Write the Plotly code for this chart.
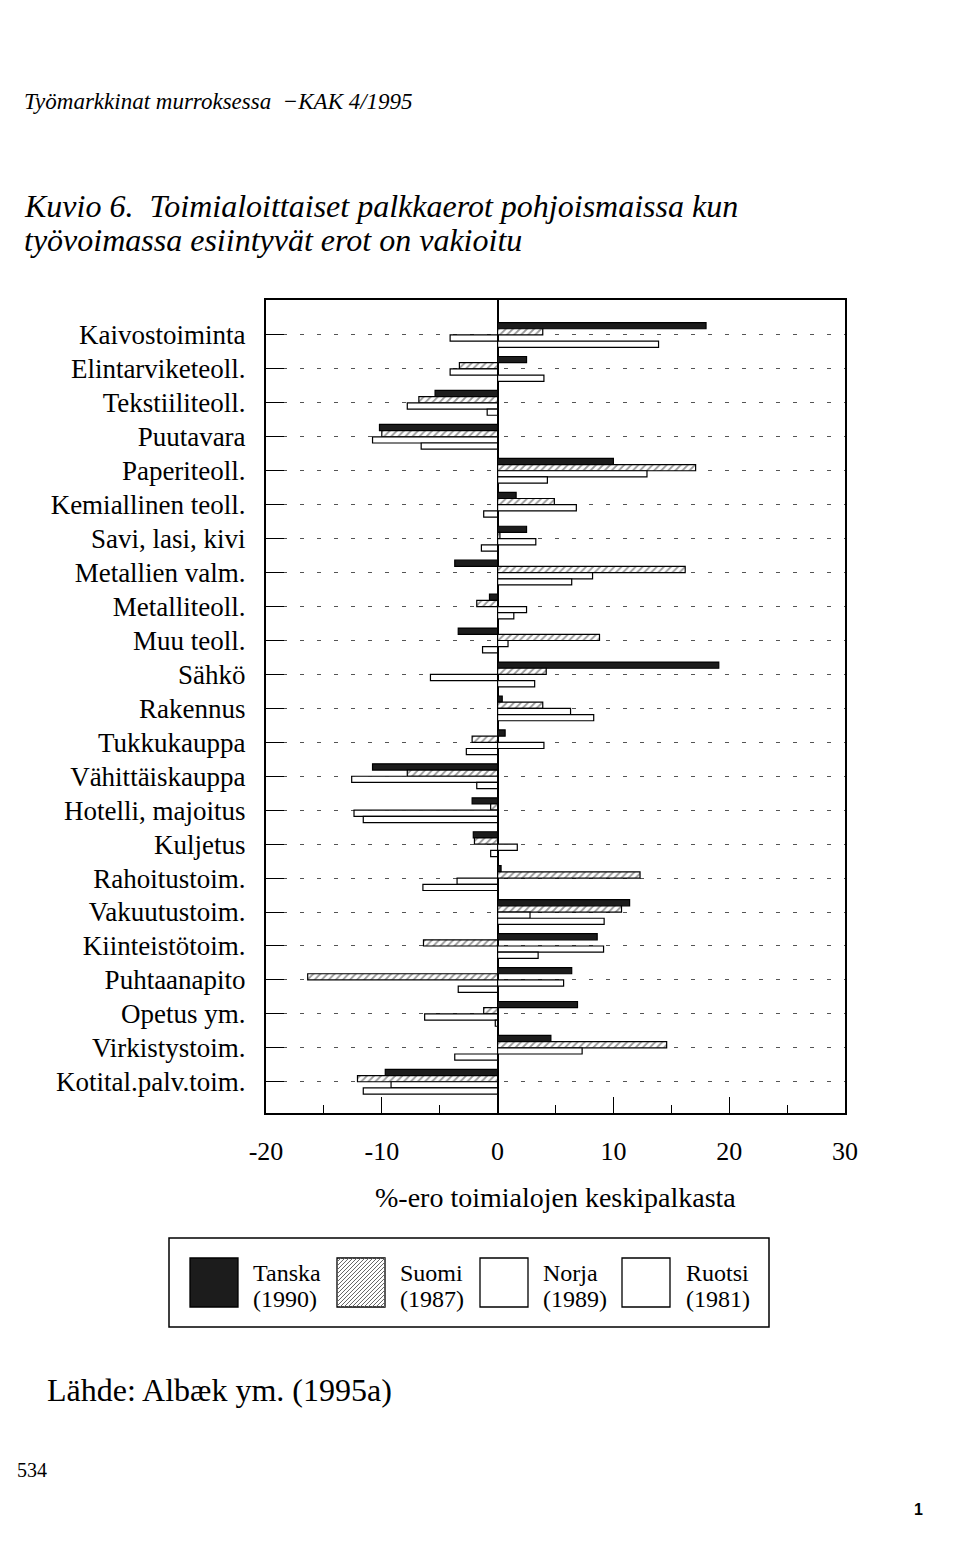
import plotly.graph_objects as go

# ---------------- data ----------------
categories = [
    "Kaivostoiminta", "Elintarviketeoll.", "Tekstiiliteoll.", "Puutavara",
    "Paperiteoll.", "Kemiallinen teoll.", "Savi, lasi, kivi", "Metallien valm.",
    "Metalliteoll.", "Muu teoll.", "Sähkö", "Rakennus", "Tukkukauppa",
    "Vähittäiskauppa", "Hotelli, majoitus", "Kuljetus", "Rahoitustoim.",
    "Vakuutustoim.", "Kiinteistötoim.", "Puhtaanapito", "Opetus ym.",
    "Virkistystoim.", "Kotital.palv.toim.",
]
tanska = [18.0, 2.5, -5.4, -10.2, 10.0, 1.6, 2.5, -3.7, -0.7, -3.4, 19.1, 0.4,
          0.65, -10.8, -2.2, -2.1, 0.3, 11.4, 8.6, 6.4, 6.9, 4.6, -9.7]
suomi = [3.9, -3.3, -6.8, -10.0, 17.1, 4.9, 0.2, 16.2, -1.8, 8.8, 4.2, 3.9,
         -2.2, -7.8, -0.6, -2.0, 12.3, 10.7, -6.4, -16.4, -1.2, 14.6, -12.1]
norja = [-4.1, -4.1, -7.8, -10.8, 12.9, 6.8, 3.3, 8.2, 2.5, 0.9, -5.8, 6.3,
         4.0, -12.6, -12.4, 1.7, -3.5, 2.8, 9.15, 5.7, -6.3, 7.3, -9.2]
ruotsi = [13.9, 4.0, -0.9, -6.6, 4.3, -1.2, -1.4, 6.4, 1.4, -1.3, 3.2, 8.3,
          -2.7, -1.8, -11.6, -0.6, -6.45, 9.2, 3.5, -3.4, -0.2, -3.7, -11.6]

x_ticks = [-20, -10, 0, 10, 20, 30]
x_tick_labels = ["-20", "-10", "0", "10", "20", "30"]

series_names = ["Tanska", "Suomi", "Norja", "Ruotsi"]
series_years = ["(1990)", "(1987)", "(1989)", "(1981)"]

# ---------------- layout geometry ----------------
W, H = 960, 1543
L, R, T, B = 266, 845, 300, 1113
SERIF = "Liberation Serif"


def px(x):
    return (x - L) / (R - L)


def py(y):
    return (B - y) / (B - T)


fig = go.Figure()
line = dict(color="black", width=1.2)
fig.add_trace(go.Bar(y=categories, x=tanska, orientation="h", name="Tanska",
                     marker=dict(color="#1c1c1c", line=line)))
fig.add_trace(go.Bar(y=categories, x=suomi, orientation="h", name="Suomi",
                     marker=dict(color="white", line=line,
                                 pattern=dict(shape="/", fgcolor="#333",
                                              bgcolor="white", size=5,
                                              solidity=0.35))))
fig.add_trace(go.Bar(y=categories, x=norja, orientation="h", name="Norja",
                     marker=dict(color="white", line=line)))
fig.add_trace(go.Bar(y=categories, x=ruotsi, orientation="h", name="Ruotsi",
                     marker=dict(color="white", line=line)))

fig.update_layout(
    width=W, height=H,
    margin=dict(l=L, r=W - R, t=T, b=H - B, pad=0),
    paper_bgcolor="white", plot_bgcolor="white",
    barmode="group", bargap=0.27, bargroupgap=0,
    showlegend=False,
    font=dict(family=SERIF, color="black"),
)
fig.update_xaxes(
    range=[-20, 30], tickvals=x_ticks, ticktext=x_tick_labels,
    ticks="inside", ticklen=16, tickwidth=1.2, tickcolor="black",
    minor=dict(dtick=5, ticks="inside", ticklen=8, tickwidth=1.2,
               tickcolor="black", showgrid=False),
    showgrid=False, zeroline=True, zerolinecolor="black", zerolinewidth=2,
    showline=True, linecolor="black", linewidth=2, mirror=True,
    tickfont=dict(family=SERIF, size=26, color="black"),
    ticklabelstandoff=14,
)
fig.update_yaxes(
    categoryorder="array", categoryarray=categories,
    range=[22.92, -1.03],
    ticks="inside", ticklen=18, tickwidth=1.3, tickcolor="black",
    showgrid=True, gridcolor="#555", gridwidth=1.3, griddash="4px,13px",
    showline=True, linecolor="black", linewidth=2, mirror=True,
    tickfont=dict(family=SERIF, size=27, color="black"),
    ticklabelstandoff=13,
)

ann = []


def text(x, y, s, size, anchor="left", italic=False, family=SERIF, bold=False):
    if italic:
        s = "<i>" + s + "</i>"
    if bold:
        s = "<b>" + s + "</b>"
    ann.append(dict(x=px(x), y=py(y), xref="paper", yref="paper", text=s,
                    showarrow=False, xanchor=anchor, yanchor="middle",
                    font=dict(family=family, size=size, color="black")))


nb = "\u00a0"
text(22, 102, "Työmarkkinat murroksessa" + nb + nb + "\u2212KAK 4/1995", 23, italic=True)
text(22, 206, "Kuvio 6." + nb + nb + "Toimialoittaiset palkkaerot pohjoismaissa kun", 32, italic=True)
text(22, 240, "työvoimassa esiintyvät erot on vakioitu", 32, italic=True)
text(555, 1197, "%-ero toimialojen keskipalkasta", 28, anchor="center")
text(45, 1390, "Lähde: Albæk ym. (1995a)", 32)
text(15, 1470, "534", 20)
text(918, 1509, "1", 16, anchor="center", family="Liberation Sans", bold=True)

# legend box
shapes = [dict(type="rect", xref="paper", yref="paper",
               x0=px(169), x1=px(769), y0=py(1327), y1=py(1238),
               line=dict(color="black", width=1.5), fillcolor="white",
               layer="above")]
sw_x = [190, 337, 480, 622]
txt_x = [251, 398, 541, 684]
fills = ["#1c1c1c", "white", "white", "white"]
for i in range(4):
    x0, x1, y0, y1 = sw_x[i], sw_x[i] + 48, 1258, 1307
    shapes.append(dict(type="rect", xref="paper", yref="paper",
                       x0=px(x0), x1=px(x1), y0=py(y1), y1=py(y0),
                       line=dict(color="black", width=1.3),
                       fillcolor=fills[i], layer="above"))
    text(txt_x[i], 1273, series_names[i], 24)
    text(txt_x[i], 1299, series_years[i], 24)

# hatch lines for the Suomi legend swatch
x0, x1, y0, y1 = sw_x[1], sw_x[1] + 48, 1258, 1307
path = ""
c = x0 + y0 + 4
while c < x1 + y1:
    ax = max(x0, c - y1)
    bx = min(x1, c - y0)
    path += "M{:.5f},{:.5f} L{:.5f},{:.5f} ".format(px(ax), py(c - ax), px(bx), py(c - bx))
    c += 4
shapes.append(dict(type="path", xref="paper", yref="paper", path=path,
                   line=dict(color="#666", width=1), layer="above"))

fig.update_layout(annotations=ann, shapes=shapes)
fig.write_html("out.html")
